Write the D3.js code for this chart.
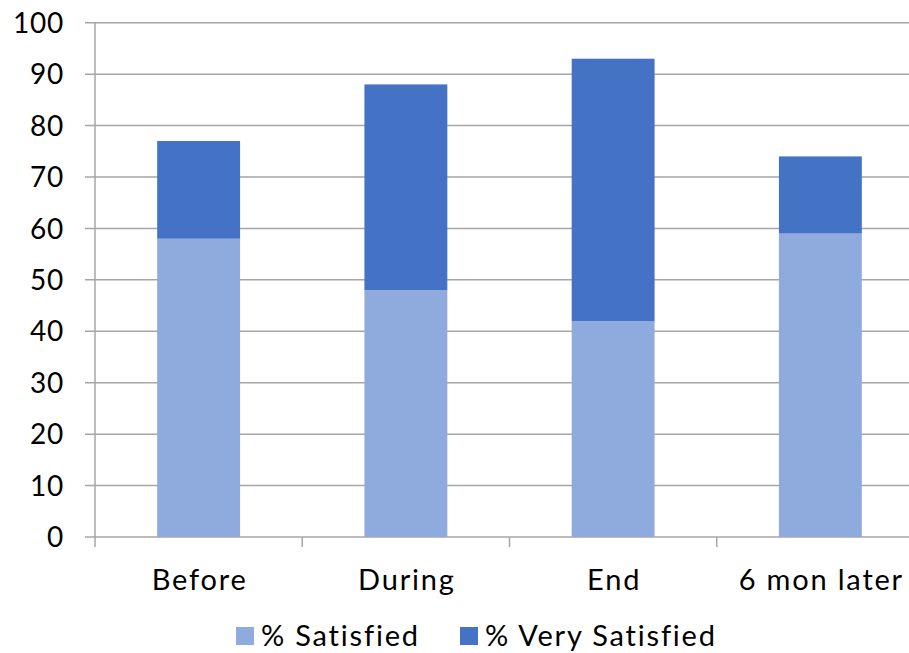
<!DOCTYPE html>
<html>
<head>
<meta charset="utf-8">
<script src="https://cdn.jsdelivr.net/npm/d3@7"></script>
<style>
  html, body { margin: 0; padding: 0; background: #fff; }
  svg { display: block; }
  text { font-family: Lato, "Open Sans", sans-serif; fill: #000; font-weight: 400; }
</style>
</head>
<body>
<svg id="chart" width="909" height="653"></svg>
<script>
// Survey results: share of respondents satisfied / very satisfied at each stage
const categories = ["Before", "During", "End", "6 mon later"];
const satisfied = [58, 48, 42, 59];
const verySatisfied = [19, 40, 51, 15];
const seriesNames = ["% Satisfied", "% Very Satisfied"];
const yTicks = [0, 10, 20, 30, 40, 50, 60, 70, 80, 90, 100];

const colors = ["#8faadc", "#4472c4"];

const svg = d3.select("#chart");
const margin = { left: 95, top: 22.7, right: -15, bottom: 116 };
const W = 909, H = 653;
const x0 = margin.left, x1 = W - margin.right;
const yTop = margin.top, yBot = H - margin.bottom;

const x = d3.scaleBand().domain(categories).range([x0, x1]).paddingInner(0.6).paddingOuter(0.3);
const xBand = d3.scaleBand().domain(categories).range([x0, x1]);
const y = d3.scaleLinear().domain([0, 100]).range([yBot, yTop]);

// Gridlines
svg.append("g")
  .selectAll("line")
  .data(yTicks)
  .join("line")
  .attr("x1", x0 - 10).attr("x2", x1)
  .attr("y1", d => y(d)).attr("y2", d => y(d))
  .attr("stroke", "#a6a6a6").attr("stroke-width", 1.5);

// Stacked bars
const rows = categories.map((c, i) => ({ cat: c, s: satisfied[i], v: verySatisfied[i] }));
const stack = d3.stack().keys(["s", "v"])(rows);
svg.append("g")
  .selectAll("g")
  .data(stack)
  .join("g")
  .attr("fill", (d, i) => colors[i])
  .selectAll("rect")
  .data(d => d)
  .join("rect")
  .attr("x", d => x(d.data.cat))
  .attr("width", x.bandwidth())
  .attr("y", d => y(d[1]))
  .attr("height", d => y(d[0]) - y(d[1]));

// Y axis line
svg.append("line")
  .attr("x1", x0).attr("x2", x0)
  .attr("y1", yTop).attr("y2", yBot + 10)
  .attr("stroke", "#a6a6a6").attr("stroke-width", 1.5);

// X axis tick marks between categories
svg.append("g")
  .selectAll("line")
  .data(categories.slice(1))
  .join("line")
  .attr("x1", d => xBand(d)).attr("x2", d => xBand(d))
  .attr("y1", yBot).attr("y2", yBot + 10)
  .attr("stroke", "#a6a6a6").attr("stroke-width", 1.5);

// Y tick labels
svg.append("g")
  .selectAll("text")
  .data(yTicks)
  .join("text")
  .attr("x", 64)
  .attr("y", d => y(d))
  .attr("dy", "0.36em")
  .attr("text-anchor", "end")
  .attr("font-size", 28)
  .style("letter-spacing", "0.8px")
  .text(d => d);

// Category labels
svg.append("g")
  .selectAll("text")
  .data(categories)
  .join("text")
  .attr("x", d => xBand(d) + xBand.bandwidth() / 2 + 1)
  .attr("y", 590)
  .attr("text-anchor", "middle")
  .attr("font-size", 29)
  .style("letter-spacing", "1.8px")
  .text(d => d);

// Legend
const legendX = [236, 460];
const lg = svg.append("g")
  .selectAll("g")
  .data(seriesNames)
  .join("g")
  .attr("transform", (d, i) => `translate(${legendX[i]},627)`);
lg.append("rect").attr("width", 18).attr("height", 18).attr("fill", (d, i) => colors[i]);
lg.append("text")
  .attr("x", 25).attr("y", 19)
  .attr("font-size", 29)
  .style("letter-spacing", "1.8px")
  .text(d => d);
</script>
</body>
</html>
